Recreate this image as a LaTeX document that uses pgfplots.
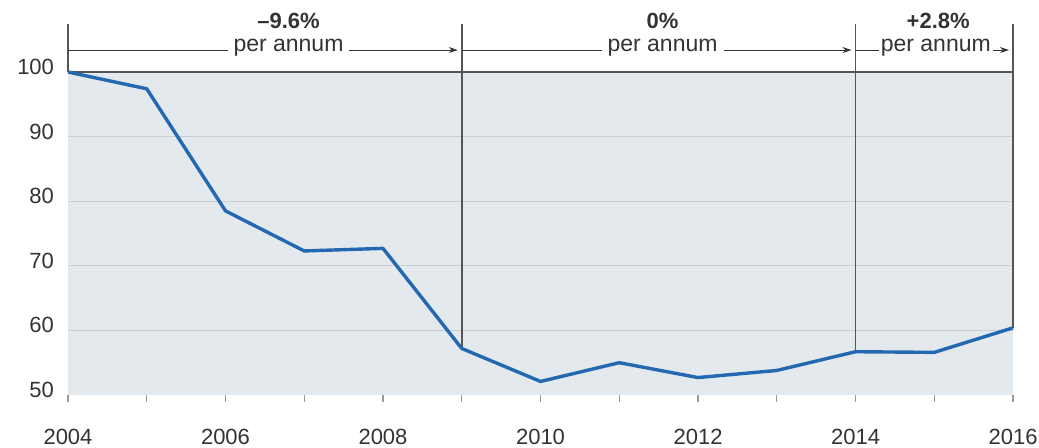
\documentclass[border=0pt]{standalone}
\usepackage{pgfplots}
\pgfplotsset{compat=1.18}
\usepackage{fontspec}
\setmainfont{Liberation Sans}
\usetikzlibrary{arrows.meta}
\definecolor{bgc}{HTML}{E4E9EE}
\definecolor{gridc}{HTML}{C8CED5}
\definecolor{linec}{HTML}{2468B2}
\definecolor{darkc}{HTML}{555555}
\definecolor{txt}{HTML}{333333}
\begin{document}
\begin{tikzpicture}
\begin{axis}[
  scale only axis, width=472.5pt, height=161.5pt,
  xmin=2004, xmax=2016, ymin=50, ymax=100,
  clip=false,
  axis line style={draw=none},
  axis background/.style={fill=bgc},
  font=\fontsize{11}{13}\selectfont,
  /pgf/number format/assume math mode=true,
  /pgf/number format/1000 sep={},
  ytick={60,70,80,90},
  extra y ticks={50,100},
  extra y tick style={grid=none},
  ymajorgrids,
  grid style={gridc, line width=0.6pt},
  ytick style={draw=none},
  ytick pos=left,
  xtick pos=bottom,
  yticklabel style={text=txt, xshift=0pt, yshift=2.5pt},
  xtick={2004,2006,...,2016},
  minor xtick={2005,2007,...,2015},
  tick align=outside,
  major tick length=3.5pt, minor tick length=3.5pt,
  xtick style={draw=gray!80, line width=0.6pt},
  xticklabel style={text=txt, yshift=-10pt},
]
% frame lines and period separators
\draw[darkc, line width=0.6pt] (axis cs:2004,100) -- (axis cs:2016,100);
\draw[darkc, line width=0.6pt] (axis cs:2004,107.4) -- (axis cs:2004,100);
\draw[darkc, line width=0.75pt] (axis cs:2009,107.4) -- (axis cs:2009,57.2);
\draw[darkc, line width=0.75pt] (axis cs:2014,107.4) -- (axis cs:2014,56.7);
\draw[darkc, line width=0.75pt] (axis cs:2016,107.4) -- (axis cs:2016,60.4);

\addplot[linec, line width=1.7pt, line join=round, mark=none] coordinates {
(2004,100.0) (2005,97.4) (2006,78.5) (2007,72.3) (2008,72.7)
(2009,57.2) (2010,52.1) (2011,55.0) (2012,52.7) (2013,53.8)
(2014,56.7) (2015,56.6) (2016,60.4)
};

% annotations
\draw[txt, line width=0.5pt, -{Stealth[length=4.5pt,width=3pt]}] (axis cs:2004,103.4) -- (axis cs:2008.95,103.4);
\draw[txt, line width=0.5pt, -{Stealth[length=4.5pt,width=3pt]}] (axis cs:2009,103.4) -- (axis cs:2013.95,103.4);
\draw[txt, line width=0.5pt, -{Stealth[length=4.5pt,width=3pt]}] (axis cs:2014,103.4) -- (axis cs:2015.95,103.4);
\node[fill=white, inner xsep=3pt, inner ysep=1pt, text=txt, font=\fontsize{11.5}{13}\selectfont] at (axis cs:2006.8,103.7) {per annum};
\node[fill=white, inner xsep=3pt, inner ysep=1pt, text=txt, font=\fontsize{11.5}{13}\selectfont] at (axis cs:2011.55,103.7) {per annum};
\node[fill=white, inner xsep=1pt, inner ysep=1pt, text=txt, font=\fontsize{11.5}{13}\selectfont] at (axis cs:2015.02,103.7) {per annum};
\node[text=txt, font=\fontsize{11}{13}\selectfont\bfseries] at (axis cs:2006.8,107.9) {\textendash9.6\%};
\node[text=txt, font=\fontsize{11}{13}\selectfont\bfseries] at (axis cs:2011.55,107.9) {0\%};
\node[text=txt, font=\fontsize{11}{13}\selectfont\bfseries] at (axis cs:2015.05,107.9) {+2.8\%};
\end{axis}
\pgfresetboundingbox
\path (-34pt,-26pt) rectangle (485.5pt,197.5pt);
\end{tikzpicture}
\end{document}
